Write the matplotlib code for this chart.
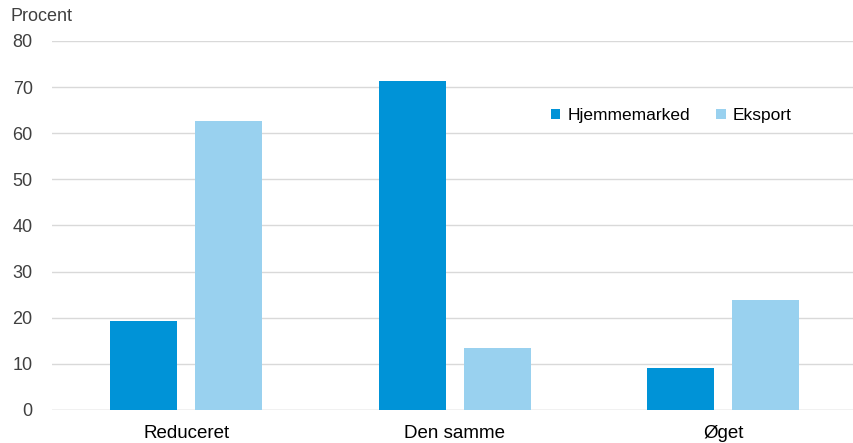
import matplotlib
matplotlib.use("Agg")
import matplotlib.pyplot as plt
import numpy as np

plt.rcParams['font.family'] = ['Liberation Sans', 'DejaVu Sans']

categories = ["Reduceret", "Den samme", "Øget"]
hjemmemarked = [19.3, 71.4, 9.2]
eksport = [62.6, 13.4, 23.8]
yticks = [0, 10, 20, 30, 40, 50, 60, 70, 80]

fig = plt.figure(figsize=(8.54, 4.43), dpi=100)
ax = fig.add_axes([0.061, 0.0745, 0.939, 0.833])

x = np.arange(len(categories))
w = 0.25
off = 0.158
ax.bar(x - off, hjemmemarked, width=w, color='#0093D7', label='Hjemmemarked', zorder=3)
ax.bar(x + off, eksport, width=w, color='#99D1EF', label='Eksport', zorder=3)

ax.set_xlim(-0.5, 2.487)
ax.set_ylim(0, 80)
ax.set_yticks(yticks)
ax.set_xticks(x)
ax.set_xticklabels(categories, fontsize=13.5, color='#000000')
ax.tick_params(axis='y', length=0, pad=14, labelsize=13, labelcolor='#404040')
ax.tick_params(axis='x', length=0, pad=11)
ax.grid(axis='y', color='#D9D9D9', linewidth=1, zorder=0)
for s in ax.spines.values():
    s.set_visible(False)
ax.axhline(0, color='#D9D9D9', linewidth=1, zorder=2)

fig.text(0.012, 0.962, 'Procent', fontsize=13, color='#404040', va='center', ha='left')

ax.legend(loc='center', bbox_to_anchor=(0.772, 0.798), ncol=2, frameon=False,
          fontsize=12.5, handlelength=0.55, handleheight=0.55, handletextpad=0.4,
          columnspacing=1.5)

fig.savefig('out.png', dpi=100)
